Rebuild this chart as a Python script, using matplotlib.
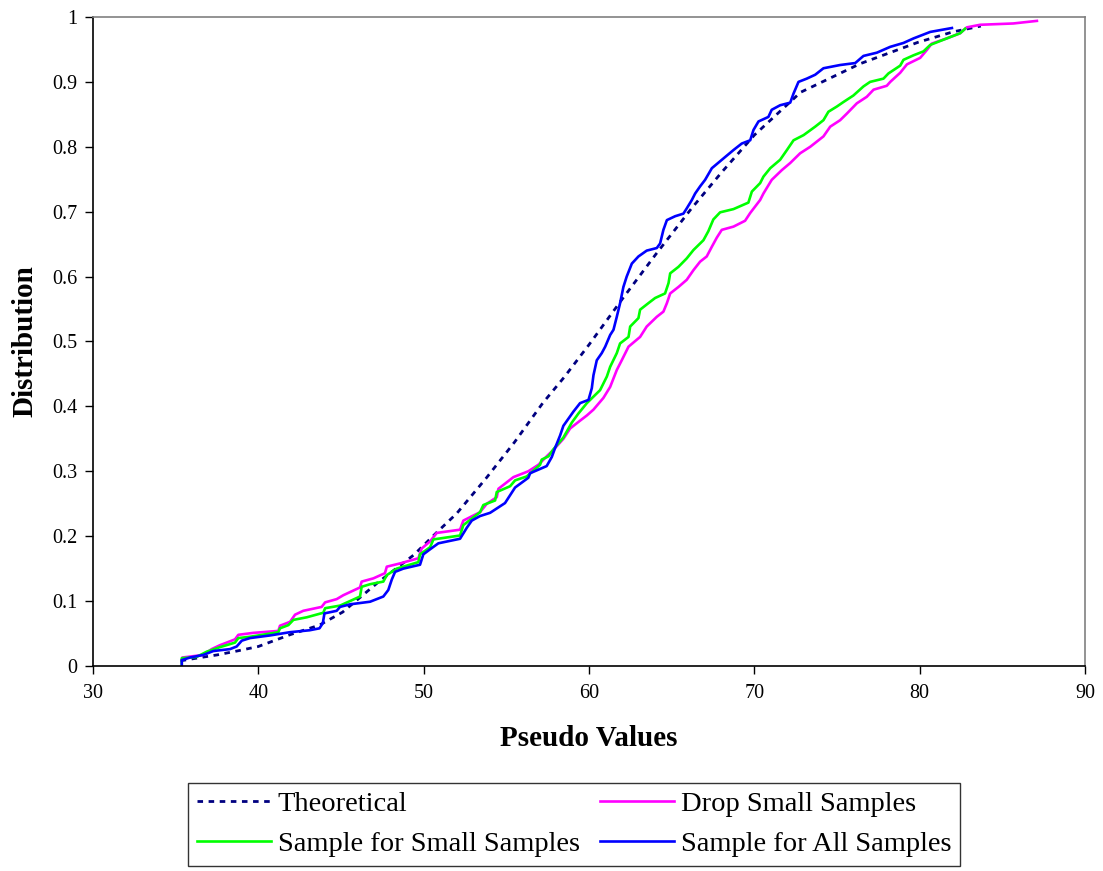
import matplotlib
matplotlib.use("Agg")
import matplotlib.pyplot as plt

plt.rcParams['font.family'] = ['Liberation Serif', 'DejaVu Serif']

# Theoretical distribution (dashed)
theo_x = [35.3, 36.5, 37.5, 38.7, 40, 41.9, 43.7, 45.1, 47.2, 49.4, 50.8, 52, 53.8, 55.5,
          57.2, 58.5, 60, 62, 64, 66.2, 68, 70, 72.8, 76.4, 79.9, 82, 83.7]
theo_y = [0.008, 0.013, 0.017, 0.023, 0.03, 0.048, 0.063, 0.083, 0.128, 0.171, 0.206, 0.235,
          0.29, 0.345, 0.405, 0.445, 0.495, 0.565, 0.633, 0.705, 0.76, 0.818, 0.884, 0.928,
          0.961, 0.977, 0.986]

# Drop Small Samples (magenta)
drop_x = [35.37, 35.4, 36.67, 37.18, 37.68, 38.59, 38.79, 39.7, 41.21, 41.31, 41.92, 42.22,
          42.72, 43.83, 44.04, 44.74, 45.14, 46.15, 46.25, 46.96, 47.66, 47.77, 48.57, 49.68,
          49.88, 50.39, 50.79, 52.2, 52.4, 53.41, 53.82, 54.42, 54.52, 55.43, 56.33, 56.94,
          57.44, 57.85, 58.45, 58.86, 59.46, 59.87, 60.27, 60.87, 61.28, 61.68, 61.98, 62.39,
          63.09, 63.49, 64.1, 64.5, 64.71, 64.91, 65.41, 65.91, 66.32, 66.72, 67.12, 67.43,
          67.73, 68.03, 68.74, 69.44, 69.75, 70.35, 70.55, 71.05, 71.66, 72.17, 72.77, 73.38,
          74.18, 74.59, 75.19, 75.59, 76.2, 76.8, 77.21, 78.01, 78.22, 78.82, 79.23, 80.03,
          80.43, 80.73, 81.64, 82.45, 82.85, 83.66, 85.66, 87.09]
drop_y = [0.009, 0.013, 0.017, 0.026, 0.032, 0.041, 0.048, 0.051, 0.054, 0.062, 0.068, 0.079,
          0.085, 0.091, 0.098, 0.103, 0.109, 0.121, 0.130, 0.135, 0.143, 0.153, 0.158, 0.166,
          0.181, 0.192, 0.205, 0.210, 0.224, 0.237, 0.250, 0.260, 0.273, 0.291, 0.300, 0.310,
          0.323, 0.333, 0.350, 0.366, 0.378, 0.386, 0.395, 0.413, 0.430, 0.456, 0.471, 0.492,
          0.507, 0.523, 0.538, 0.546, 0.559, 0.574, 0.584, 0.595, 0.610, 0.623, 0.631, 0.646,
          0.660, 0.672, 0.677, 0.686, 0.698, 0.718, 0.728, 0.749, 0.764, 0.775, 0.790, 0.800,
          0.816, 0.831, 0.841, 0.851, 0.867, 0.877, 0.888, 0.894, 0.900, 0.914, 0.927, 0.937,
          0.949, 0.959, 0.967, 0.975, 0.984, 0.988, 0.990, 0.994]

# Sample for Small Samples (green)
small_x = [35.37, 35.37, 36.27, 36.88, 37.68, 38.59, 38.79, 39.5, 41.21, 41.31, 41.82, 42.12,
           42.93, 43.93, 44.04, 44.94, 46.15, 46.25, 46.76, 47.56, 47.77, 48.37, 49.68, 49.78,
           50.39, 50.59, 52.2, 52.4, 53.41, 53.61, 54.32, 54.42, 55.23, 55.53, 56.23, 57.04,
           57.14, 57.55, 57.85, 58.45, 58.96, 59.36, 59.87, 60.27, 60.67, 61.08, 61.28, 61.68,
           61.88, 62.39, 62.49, 62.99, 63.09, 63.59, 64.0, 64.6, 64.81, 64.91, 65.41, 65.91,
           66.32, 66.92, 67.22, 67.52, 67.93, 68.74, 69.64, 69.85, 70.35, 70.55, 70.96, 71.56,
           71.97, 72.37, 72.98, 73.68, 74.18, 74.48, 74.99, 75.39, 75.99, 76.6, 77.0, 77.81,
           78.11, 78.82, 79.02, 79.63, 80.23, 80.64, 81.64, 82.45, 82.75]
small_y = [0.004, 0.012, 0.014, 0.022, 0.029, 0.036, 0.043, 0.045, 0.052, 0.058, 0.063, 0.071,
           0.075, 0.082, 0.089, 0.093, 0.107, 0.122, 0.126, 0.130, 0.140, 0.150, 0.160, 0.172,
           0.183, 0.195, 0.201, 0.217, 0.237, 0.248, 0.255, 0.268, 0.277, 0.286, 0.292, 0.310,
           0.318, 0.323, 0.334, 0.352, 0.375, 0.389, 0.405, 0.415, 0.425, 0.446, 0.461, 0.482,
           0.497, 0.507, 0.523, 0.536, 0.549, 0.559, 0.567, 0.574, 0.590, 0.605, 0.615, 0.628,
           0.641, 0.656, 0.670, 0.688, 0.699, 0.704, 0.714, 0.731, 0.744, 0.754, 0.767, 0.780,
           0.795, 0.810, 0.818, 0.831, 0.841, 0.854, 0.862, 0.869, 0.879, 0.893, 0.900, 0.905,
           0.913, 0.925, 0.934, 0.941, 0.947, 0.957, 0.967, 0.975, 0.982]

# Sample for All Samples (blue)
all_x = [35.37, 35.37, 35.87, 36.67, 37.28, 38.29, 38.69, 39.0, 39.5, 40.7, 41.9, 43.1, 43.7,
         43.9, 44.0, 44.74, 44.94, 45.55, 46.76, 47.56, 47.86, 48.07, 48.27, 48.77, 49.78,
         49.98, 50.4, 50.89, 52.2, 52.61, 52.91, 53.41, 54.02, 54.62, 54.92, 55.53, 56.33,
         56.44, 57.44, 57.75, 57.95, 58.25, 58.45, 59.06, 59.46, 59.97, 60.17, 60.27, 60.47,
         60.77, 60.98, 61.28, 61.48, 61.68, 61.88, 62.08, 62.28, 62.59, 62.99, 63.49, 64.10,
         64.30, 64.50, 64.71, 65.21, 65.71, 65.91, 66.22, 66.42, 66.72, 67.02, 67.43, 68.13,
         68.74, 69.24, 69.75, 69.95, 70.25, 70.85, 71.05, 71.56, 72.17, 72.37, 72.67, 73.17,
         73.68, 74.18, 75.19, 76.1, 76.6, 77.41, 78.22, 79.02, 79.63, 80.64, 81.95]
all_y = [0.0, 0.009, 0.013, 0.017, 0.023, 0.026, 0.030, 0.039, 0.043, 0.047, 0.052, 0.055, 0.058,
         0.066, 0.081, 0.085, 0.091, 0.095, 0.099, 0.107, 0.117, 0.133, 0.145, 0.150, 0.156,
         0.172, 0.180, 0.189, 0.196, 0.213, 0.224, 0.231, 0.236, 0.246, 0.251, 0.275, 0.290,
         0.297, 0.308, 0.322, 0.336, 0.355, 0.370, 0.392, 0.405, 0.410, 0.428, 0.448, 0.471,
         0.482, 0.492, 0.510, 0.518, 0.538, 0.559, 0.584, 0.600, 0.620, 0.631, 0.640, 0.644,
         0.651, 0.672, 0.687, 0.693, 0.697, 0.705, 0.718, 0.728, 0.739, 0.749, 0.767, 0.782,
         0.795, 0.805, 0.810, 0.826, 0.839, 0.846, 0.857, 0.864, 0.868, 0.882, 0.900, 0.905,
         0.911, 0.921, 0.926, 0.929, 0.940, 0.945, 0.954, 0.960, 0.967, 0.977, 0.983]

x_ticks = [30, 40, 50, 60, 70, 80, 90]
y_ticks = [0, 0.1, 0.2, 0.3, 0.4, 0.5, 0.6, 0.7, 0.8, 0.9, 1]
y_tick_labels = ['0', '0.1', '0.2', '0.3', '0.4', '0.5', '0.6', '0.7', '0.8', '0.9', '1']

fig = plt.figure(figsize=(11.03, 8.71), dpi=100)
ax = fig.add_axes([0.0843, 0.2354, 0.8994, 0.7451])

l_theo, = ax.plot(theo_x, theo_y, color='#000080', lw=2.0, linestyle=(0, (2, 2)), label='Theoretical')
l_drop, = ax.plot(drop_x, drop_y, color='#FF00FF', lw=1.9, label='Drop Small Samples')
l_small, = ax.plot(small_x, small_y, color='#00FF00', lw=1.9, label='Sample for Small Samples')
l_all, = ax.plot(all_x, all_y, color='#0000FF', lw=1.9, label='Sample for All Samples')

ax.set_xlim(30, 90)
ax.set_ylim(0, 1)
ax.set_xticks(x_ticks)
ax.set_yticks(y_ticks)
ax.set_yticklabels(y_tick_labels)
ax.tick_params(axis='both', direction='out', length=6, width=1, labelsize=14.5, colors='black')
ax.tick_params(axis='x', pad=7)
ax.tick_params(axis='y', pad=5)

ax.spines['left'].set_color('black')
ax.spines['bottom'].set_color('black')
ax.spines['top'].set_color('#808080')
ax.spines['right'].set_color('#808080')
for s in ax.spines.values():
    s.set_linewidth(1.2)

ax.set_xlabel('Pseudo Values', fontsize=21, fontweight='bold', labelpad=16)
ax.set_ylabel('Distribution', fontsize=21, fontweight='bold', labelpad=10)

leg = fig.legend(handles=[l_theo, l_small, l_drop, l_all], ncol=2, loc='lower center',
                 bbox_to_anchor=(0.5205, 0.006), fontsize=20.5, frameon=True, fancybox=False,
                 edgecolor='black', handlelength=2.6, handletextpad=0.25, columnspacing=0.7,
                 borderpad=0.3, labelspacing=0.5, borderaxespad=0)
leg.get_frame().set_linewidth(1.0)

fig.savefig('out.png', dpi=100)
